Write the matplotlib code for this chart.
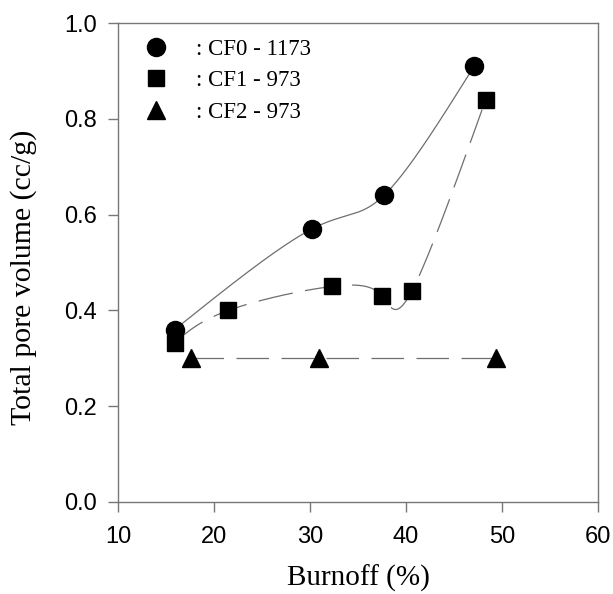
import numpy as np
import matplotlib
matplotlib.use("Agg")
import matplotlib.pyplot as plt
from matplotlib.lines import Line2D

# Data
cf0_x = [15.9, 30.2, 37.7, 47.1]
cf0_y = [0.36, 0.57, 0.64, 0.91]
cf1_x = [15.9, 21.5, 32.3, 37.5, 40.6, 48.3]
cf1_y = [0.332, 0.40, 0.45, 0.43, 0.44, 0.84]
cf2_x = [17.6, 30.9, 49.4]
cf2_y = [0.30, 0.30, 0.30]
labels = [": CF0 - 1173", ": CF1 - 973", ": CF2 - 973"]
xticks = [10, 20, 30, 40, 50, 60]
yticks = [0.0, 0.2, 0.4, 0.6, 0.8, 1.0]


def natural_coeffs(t, y):
    m = len(t)
    h = np.diff(t)
    A = np.zeros((m, m))
    b = np.zeros(m)
    A[0, 0] = 1
    A[-1, -1] = 1
    for i in range(1, m - 1):
        A[i, i - 1] = h[i - 1]
        A[i, i] = 2 * (h[i - 1] + h[i])
        A[i, i + 1] = h[i]
        b[i] = 6 * ((y[i + 1] - y[i]) / h[i] - (y[i] - y[i - 1]) / h[i - 1])
    return np.linalg.solve(A, b)


def eval_spline(t, y, M, ts):
    m = len(t)
    idx = np.clip(np.searchsorted(t, ts) - 1, 0, m - 2)
    x0, x1 = t[idx], t[idx + 1]
    hh = x1 - x0
    t0 = x1 - ts
    t1 = ts - x0
    return (M[idx] * t0 ** 3 / (6 * hh) + M[idx + 1] * t1 ** 3 / (6 * hh)
            + (y[idx] / hh - M[idx] * hh / 6) * t0
            + (y[idx + 1] / hh - M[idx + 1] * hh / 6) * t1)


def param_spline(x, y, n=500):
    # parametric natural cubic spline with uniform (index) parameter
    x = np.asarray(x, float)
    y = np.asarray(y, float)
    t = np.arange(len(x), dtype=float)
    ts = np.linspace(0, t[-1], n)
    return (eval_spline(t, x, natural_coeffs(t, x), ts),
            eval_spline(t, y, natural_coeffs(t, y), ts))


serif = ["Liberation Serif", "DejaVu Serif"]
sans = ["Liberation Sans", "DejaVu Sans"]

fig = plt.figure(figsize=(6.13, 5.94), dpi=100)
ax = fig.add_axes([118 / 613, 1 - 502 / 594, 480 / 613, 479 / 594])
ax.set_xlim(10, 60)
ax.set_ylim(0, 1.0)

line_col = "#6e6e6e"
xs, ys = param_spline(cf0_x, cf0_y)
ax.plot(xs, ys, color=line_col, lw=0.9, zorder=2)
xs, ys = param_spline(cf1_x, cf1_y)
ax.plot(xs, ys, color=line_col, lw=0.9, dashes=(28, 10), zorder=2)
ax.plot(cf2_x, cf2_y, color=line_col, lw=0.9, dashes=(26, 10), zorder=2)

ax.plot(cf0_x, cf0_y, "o", color="black", ms=13, zorder=3, clip_on=False)
ax.plot(cf1_x, cf1_y, "s", color="black", ms=11.5, zorder=3, clip_on=False)
ax.plot(cf2_x, cf2_y, "^", color="black", ms=13, zorder=3, clip_on=False)

ax.set_xticks(xticks)
ax.set_yticks(yticks)
ax.set_xticklabels([str(t) for t in xticks], family=sans, fontsize=17)
ax.set_yticklabels([f"{t:.1f}" for t in yticks], family=sans, fontsize=17)
ax.tick_params(direction="out", length=7, width=1, color="#777777", pad=8)
ax.tick_params(axis="x", pad=10)
for sp in ax.spines.values():
    sp.set_color("#777777")
    sp.set_linewidth(1.0)

ax.set_xlabel("Burnoff (%)", family=serif, fontsize=21, labelpad=12)
ax.set_ylabel("Total pore volume (cc/g)", family=serif, fontsize=21.5)
ax.yaxis.set_label_coords(-0.169, 0.47)

handles = [
    Line2D([], [], ls="none", marker="o", color="black", ms=13),
    Line2D([], [], ls="none", marker="s", color="black", ms=11.5),
    Line2D([], [], ls="none", marker="^", color="black", ms=13),
]
ax.legend(handles, labels, loc="upper left", frameon=False,
          prop={"family": serif, "size": 16.5}, handlelength=1.0,
          handletextpad=1.27, labelspacing=0.46, borderaxespad=0.2,
          bbox_to_anchor=(0.026, 0.996))

fig.savefig("out.png", dpi=100)
